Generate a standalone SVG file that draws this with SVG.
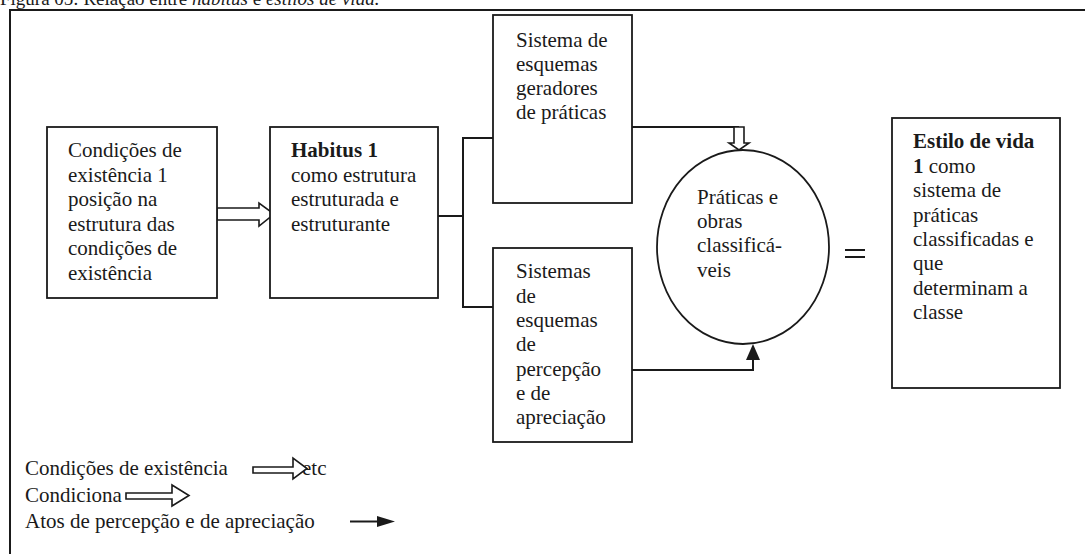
<svg xmlns="http://www.w3.org/2000/svg" width="1085" height="554" viewBox="0 0 1085 554">
<style>
text{font-family:"Liberation Serif","Times New Roman",serif;font-size:21px;fill:#1a1a1a}
.b{font-weight:bold}
.i{font-style:italic}
.box{fill:#fff;stroke:#1a1a1a;stroke-width:1.8}
.ln{fill:none;stroke:#1a1a1a;stroke-width:2}
.hol{fill:#fff;stroke:#1a1a1a;stroke-width:1.6;stroke-linejoin:miter}
.sol{fill:#1a1a1a;stroke:none}
</style>
<rect width="1085" height="554" fill="#fff"/>
<text x="0" y="5" style="font-size:19px">Figura 05: Relação entre <tspan class="i">habitus</tspan> e <tspan class="i">estilos de vida.</tspan></text>
<path class="ln" d="M10 554 V10 H1085" stroke-width="2.2"/>

<g id="connectors">
<path class="hol" d="M217 208 H259 V203 L274 214 L259 226 V220 H217 Z"/>
<path class="ln" d="M438 216 H463 M493 138 H463 V307 H493"/>
<path class="ln" d="M632 127 H739"/>
<path class="hol" d="M734 127 H744 V143 H749 L739 150 L729 143 H734 Z"/>
<path class="ln" d="M632 370 H753 V358"/>
<path class="sol" d="M746 360 L753 344 L760 360 Z"/>
</g>

<g id="n1">
<rect class="box" x="47" y="127" width="170" height="171"/>
<text x="68" y="157">Condições de</text>
<text x="68" y="181.5">existência 1</text>
<text x="68" y="206">posição na</text>
<text x="68" y="230.5">estrutura das</text>
<text x="68" y="255">condições de</text>
<text x="68" y="279.5">existência</text>
</g>

<g id="n2">
<rect class="box" x="270" y="127" width="168" height="171"/>
<text x="291" y="157" class="b">Habitus 1</text>
<text x="291" y="181.5">como estrutura</text>
<text x="291" y="206">estruturada e</text>
<text x="291" y="230.5">estruturante</text>
</g>

<g id="n3">
<rect class="box" x="493" y="15" width="139" height="188"/>
<text x="516" y="47">Sistema de</text>
<text x="516" y="71">esquemas</text>
<text x="516" y="95">geradores</text>
<text x="516" y="119">de práticas</text>
</g>

<g id="n4">
<rect class="box" x="493" y="248" width="139" height="194"/>
<text x="516" y="278">Sistemas</text>
<text x="516" y="302.5">de</text>
<text x="516" y="327">esquemas</text>
<text x="516" y="351">de</text>
<text x="516" y="375.5">percepção</text>
<text x="516" y="400">e de</text>
<text x="516" y="424">apreciação</text>
</g>

<g id="n5">
<ellipse class="box" cx="743" cy="247" rx="86" ry="97"/>
<text x="697" y="204">Práticas e</text>
<text x="697" y="228">obras</text>
<text x="697" y="252">classificá-</text>
<text x="697" y="277">veis</text>
</g>

<g id="eq">
<path class="ln" d="M845 250 H865 M845 257 H865" stroke-width="1.2"/>
</g>

<g id="n6">
<rect class="box" x="892" y="118" width="168" height="270"/>
<text x="913" y="148" class="b">Estilo de vida</text>
<text x="913" y="172.5"><tspan class="b">1</tspan> como</text>
<text x="913" y="197">sistema de</text>
<text x="913" y="221.5">práticas</text>
<text x="913" y="246">classificadas e</text>
<text x="913" y="270">que</text>
<text x="913" y="294.5">determinam a</text>
<text x="913" y="318.5">classe</text>
</g>

<g id="legend">
<text x="25" y="475">Condições de existência</text>
<text x="302" y="475">etc</text>
<path class="hol" d="M253 467 H293 V458 L307 468.5 L293 479 V473 H253 Z"/>
<text x="25" y="502">Condiciona</text>
<path class="hol" d="M126 493 H172 V485 L189 495.5 L172 506 V499 H126 Z"/>
<text x="25" y="528">Atos de percepção e de apreciação</text>
<path class="ln" d="M350 521.5 H380"/>
<path class="sol" d="M377 516 L395 521.5 L377 527 Z"/>
</g>
</svg>
